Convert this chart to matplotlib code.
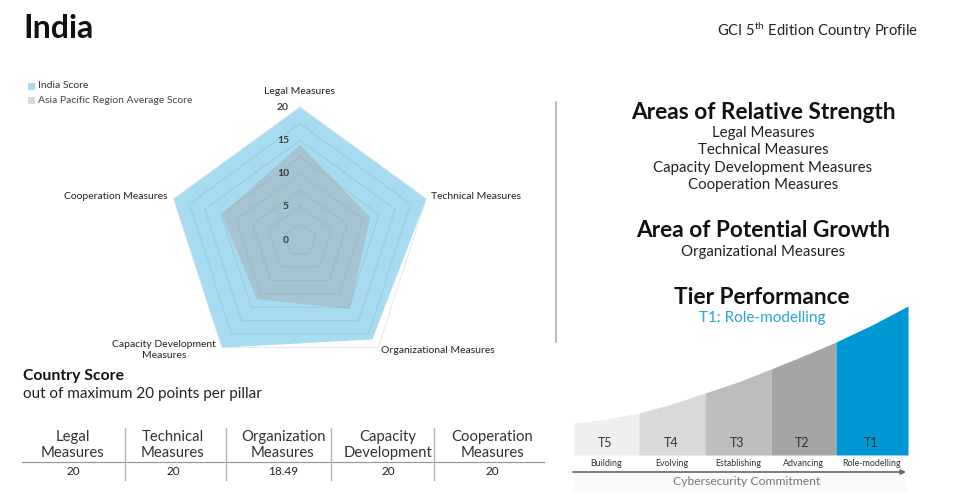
import numpy as np
import matplotlib
matplotlib.use("Agg")
import matplotlib.pyplot as plt
from matplotlib.patches import Rectangle

plt.rcParams['font.family'] = ['Lato', 'DejaVu Sans']
plt.rcParams['mathtext.default'] = 'regular'

# dane
pillars = ["Legal Measures", "Technical Measures", "Organizational Measures",
           "Capacity Development\nMeasures", "Cooperation Measures"]
india_score = [20, 20, 18.49, 20, 20]
region_avg = [14.3, 11.1, 12.8, 11.0, 12.4]
rings = [2.5, 5, 7.5, 10, 12.5, 15, 17.5, 20]
r_labels = [0, 5, 10, 15, 20]

table_head = ["Legal\nMeasures", "Technical\nMeasures", "Organization\nMeasures",
              "Capacity\nDevelopment", "Cooperation\nMeasures"]
table_vals = ["20", "20", "18.49", "20", "20"]

strengths = ["Legal Measures", "Technical Measures",
             "Capacity Development Measures", "Cooperation Measures"]

tier_names = ["T5", "T4", "T3", "T2", "T1"]
tier_labels = ["Building", "Evolving", "Establishing", "Advancing", "Role-modelling"]
tier_colors = ['#efefef', '#d9d9d9', '#bdbdbd', '#a5a5a5', '#0098d4']
tier_edges = [574, 639, 705, 771, 836, 908]
tier_mids = [606, 672, 738, 803, 872]
tier_tops = [423, 413, 393, 369, 342, 306]
tier_mid_tops = [419, 404, 382, 356, 325]
tier_base = 455

W, H = 966, 494
fig = plt.figure(figsize=(W / 100, H / 100), dpi=100, facecolor='white')

# tlo w pikselach
ax = fig.add_axes([0, 0, 1, 1], zorder=2)
ax.set_xlim(0, W)
ax.set_ylim(H, 0)
ax.axis("off")

# radar
cx, cy, R = 300, 240, 133
rad = fig.add_axes([(cx - R) / W, 1 - (cy + R) / H, 2 * R / W, 2 * R / H], projection='polar', zorder=1)
rad.set_theta_zero_location('N')
rad.set_theta_direction(-1)
rad.set_ylim(0, 20)
rad.axis("off")
rad.patch.set_alpha(0)
kat = np.linspace(0, 2 * np.pi, 6)[:-1]
kat_z = np.append(kat, 0)

rad.fill(kat_z, india_score + india_score[:1], color='#a6dbf0', lw=0, zorder=1)
rad.fill(kat_z, region_avg + region_avg[:1], color='#a5a5a5', alpha=0.42, lw=0, zorder=2)
for r in rings:
    kolor = '#dfe4ea' if r == 20 else '#7f9dab'
    rad.plot(kat_z, [r] * 6, color=kolor, lw=0.6, alpha=1 if r == 20 else 0.3, zorder=3, clip_on=False)

# etykiety radaru
ax.text(300, 91.5, pillars[0], ha='center', va='center', fontsize=7.5, color='#222222')
ax.text(431, 196.5, pillars[1], ha='left', va='center', fontsize=7.5, color='#222222')
ax.text(381, 350.5, pillars[2], ha='left', va='center', fontsize=7.5, color='#222222')
ax.text(164, 350, pillars[3], ha='center', va='center', fontsize=7.5, color='#222222', linespacing=1.3)
ax.text(167, 196.5, pillars[4], ha='right', va='center', fontsize=7.5, color='#222222')
for v in r_labels:
    ax.text(289, cy - v / 20 * R, str(v), ha='right', va='center',
            fontsize=7.5, color='#222222', fontweight='bold', alpha=0.85)

# legenda
ax.add_patch(Rectangle((28, 83), 7, 7, color='#a6dbf0', lw=0))
ax.add_patch(Rectangle((28, 97), 7, 7, color='#d9d9d9', lw=0))
ax.text(38, 86, "India Score", va='center', fontsize=7.5, color='#333333')
ax.text(38, 100.5, "Asia Pacific Region Average Score", va='center', fontsize=7.5, color='#444444')

# naglowki
ax.text(23, 28.5, "India", va='center', fontsize=23, fontweight='bold', color='#111111')
ax.text(918, 30.5, r"GCI 5$^{th}$ Edition Country Profile", ha='right', va='center',
        fontsize=10.6, color='#222222')

ax.plot([556, 556], [102, 342], color='#b5b5b5', lw=1.3)

# prawa strona
ax.text(763, 112, "Areas of Relative Strength", ha='center', va='center', fontsize=16.3,
        fontweight='bold', color='#111111')
for i, s in enumerate(strengths):
    ax.text(763, 133 + i * 17.3, s, ha='center', va='center', fontsize=10.8, color='#222222')
ax.text(763, 230, "Area of Potential Growth", ha='center', va='center', fontsize=16.3,
        fontweight='bold', color='#111111')
ax.text(763, 252, "Organizational Measures", ha='center', va='center', fontsize=10.8, color='#222222')
ax.text(762, 297, "Tier Performance", ha='center', va='center', fontsize=16.3,
        fontweight='bold', color='#111111')
ax.text(762, 318, "T1: Role-modelling", ha='center', va='center', fontsize=11, color='#29a3d8')

# progi
for i in range(5):
    x = [tier_edges[i], tier_mids[i], tier_edges[i + 1]]
    y = [tier_tops[i], tier_mid_tops[i], tier_tops[i + 1]]
    ax.fill_between(x, y, tier_base, color=tier_colors[i], lw=0)
    xm = (x[0] + x[2]) / 2
    ax.text(xm - 1, 443, tier_names[i], ha='center', va='center', fontsize=9, color='#333333')
    ax.text(xm + 0, 463, tier_labels[i], ha='center', va='center', fontsize=6.4, color='#333333')
ax.add_patch(Rectangle((574, 473), 333, 19, color='#fafafa', lw=0))
ax.annotate("", xy=(906, 472), xytext=(573, 472),
            arrowprops=dict(arrowstyle='-|>', color='#666666', lw=1.2, mutation_scale=7, shrinkA=0, shrinkB=0))
ax.text(747, 481, "Cybersecurity Commitment", ha='center', va='center', fontsize=8.7, color='#777777')

# wynik kraju
ax.text(23, 375.5, "Country Score", va='center', fontsize=11.3, fontweight='bold', color='#111111')
ax.text(23, 393.5, "out of maximum 20 points per pillar", va='center', fontsize=11, color='#222222')

# tabela
kol_x = [22, 125, 226, 331, 434, 544]
kol_sr = [73, 173, 283, 388, 492]
for i in range(5):
    ax.text(kol_sr[i], 445, table_head[i], ha='center', va='center', fontsize=10.7,
            color='#333333', linespacing=1.2)
    ax.text(kol_sr[i], 471, table_vals[i], ha='center', va='center',
            fontsize=8.5, color='#222222')
ax.plot([kol_x[0], kol_x[5]], [462, 462], color='#999999', lw=0.9)
for x in kol_x[1:5]:
    ax.plot([x, x], [428, 480], color='#b5b5b5', lw=1)

fig.savefig("out.png", dpi=100)
